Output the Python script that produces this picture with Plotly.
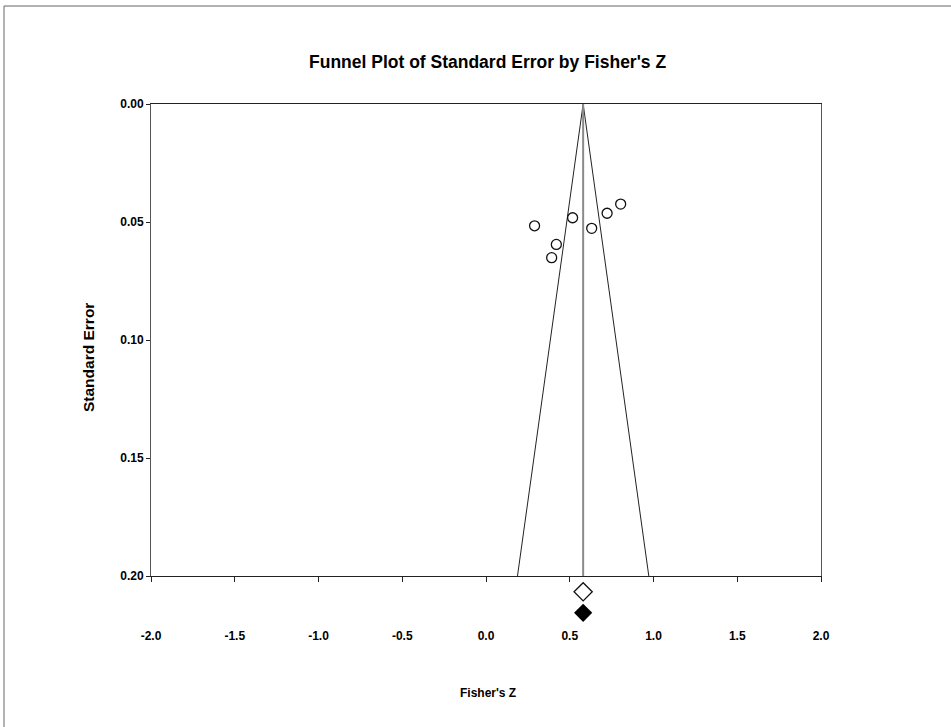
import plotly.graph_objects as go

# Study-level data
fisher_z = [0.290, 0.517, 0.420, 0.392, 0.631, 0.723, 0.804]
std_err = [0.0516, 0.0482, 0.0595, 0.0651, 0.0527, 0.0463, 0.0424]

# Summary effect
summary_z = 0.58
summary_open_y = 0.2067
summary_filled_y = 0.2156
se_max = 0.20

x_ticks = [-2.0, -1.5, -1.0, -0.5, 0.0, 0.5, 1.0, 1.5, 2.0]
y_ticks = [0.00, 0.05, 0.10, 0.15, 0.20]

font_b = "Liberation Sans, Arial, sans-serif"

# layout geometry (pixels)
W, H = 951, 727
ML, MR, MT, MB = 151, 130, 104, 79
PH = H - MT - MB          # total plot height (main + strip under axis)
strip = 72                # strip below the x axis for the summary diamonds
d = strip / PH
px_per_unit = (PH - strip) / se_max


def px(x):
    return (x - ML) / (W - ML - MR)


def py(y):
    return (H - MB - y) / PH


fig = go.Figure()

# Funnel limits
fig.add_trace(go.Scatter(
    x=[summary_z - 1.96 * se_max, summary_z, summary_z + 1.96 * se_max],
    y=[se_max, 0.0, se_max],
    mode="lines", line=dict(color="#222222", width=1),
    hoverinfo="skip", showlegend=False))

# Vertical line at summary effect
fig.add_trace(go.Scatter(
    x=[summary_z, summary_z], y=[0.0, se_max],
    mode="lines", line=dict(color="#8a8a8a", width=2),
    hoverinfo="skip", showlegend=False))

# Studies
fig.add_trace(go.Scatter(
    x=fisher_z, y=std_err, mode="markers",
    marker=dict(symbol="circle-open", size=10, color="#111111", line=dict(width=1.3)),
    showlegend=False))

# Summary diamonds (in strip below the axis)
fig.add_trace(go.Scatter(
    x=[summary_z], y=[summary_open_y], mode="markers", xaxis="x2", yaxis="y2",
    marker=dict(symbol="diamond-open", size=14, color="#111111", line=dict(width=1.3)),
    showlegend=False))
fig.add_trace(go.Scatter(
    x=[summary_z], y=[summary_filled_y], mode="markers", xaxis="x2", yaxis="y2",
    marker=dict(symbol="diamond", size=14, color="#000000"),
    showlegend=False))

# Outer frame lines (top and left)
fig.add_shape(type="line", xref="paper", yref="paper",
              x0=px(4), x1=px(W + 20), y0=py(6), y1=py(6),
              line=dict(color="#666666", width=1))
fig.add_shape(type="line", xref="paper", yref="paper",
              x0=px(4), x1=px(4), y0=py(6), y1=py(H + 20),
              line=dict(color="#666666", width=1))

fig.add_annotation(text="<b>Funnel Plot of Standard Error by Fisher's Z</b>",
                   xref="paper", yref="paper", x=px(487), y=py(62),
                   xanchor="center", yanchor="middle", showarrow=False,
                   font=dict(family=font_b, size=17.5, color="#000000"))
fig.add_annotation(text="<b>Standard Error</b>", textangle=-90,
                   xref="paper", yref="paper", x=px(88), y=py(358),
                   xanchor="center", yanchor="middle", showarrow=False,
                   font=dict(family=font_b, size=15.5, color="#000000"))
fig.add_annotation(text="<b>Fisher's Z</b>",
                   xref="paper", yref="paper", x=px(488), y=py(692.5),
                   xanchor="center", yanchor="middle", showarrow=False,
                   font=dict(family=font_b, size=12, color="#000000"))

fig.update_layout(
    width=W, height=H,
    margin=dict(l=ML, r=MR, t=MT, b=MB),
    paper_bgcolor="white", plot_bgcolor="white",
    xaxis=dict(range=[-2.0, 2.0], tickvals=x_ticks, anchor="y",
               ticktext=[f"<b>{v:.1f}</b>" for v in x_ticks],
               tickfont=dict(family=font_b, size=12, color="#000000"),
               ticks="outside", ticklen=5, tickcolor="#222222",
               ticklabelstandoff=44,
               showline=True, linecolor="#222222", linewidth=1, mirror=True,
               showgrid=False, zeroline=False),
    yaxis=dict(range=[se_max, 0.0], tickvals=y_ticks, domain=[d, 1],
               ticktext=[f"<b>{v:.2f}</b>" for v in y_ticks],
               tickfont=dict(family=font_b, size=12, color="#000000"),
               ticks="outside", ticklen=4, tickcolor="#222222",
               showline=True, linecolor="#555555", linewidth=1, mirror=True,
               showgrid=False, zeroline=False),
    xaxis2=dict(range=[-2.0, 2.0], anchor="y2", visible=False),
    yaxis2=dict(range=[se_max + strip / px_per_unit, se_max], domain=[0, d],
                anchor="x2", visible=False),
)

fig.write_html("out.html", config={"displayModeBar": False},
               post_script="document.body.style.margin='0';")
